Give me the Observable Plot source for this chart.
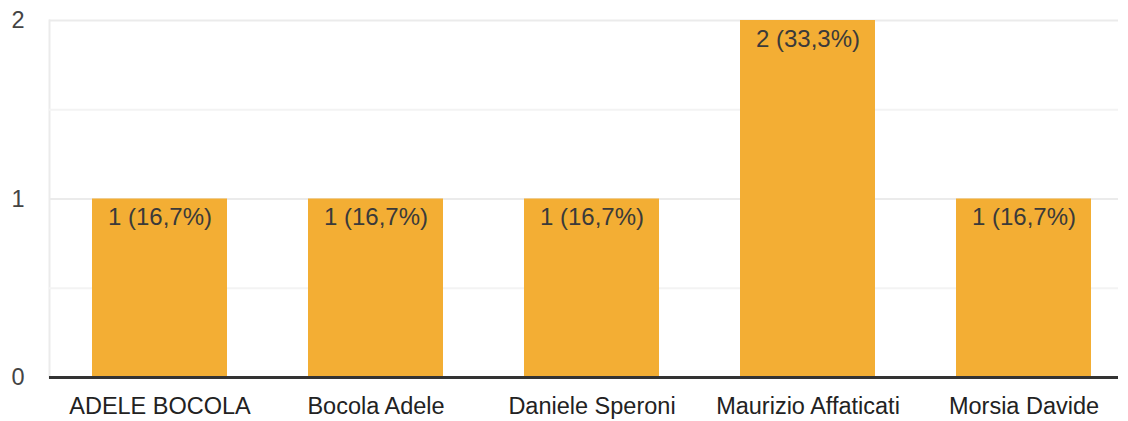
<!DOCTYPE html>
<html>
<head>
<meta charset="utf-8">
<script src="https://cdn.jsdelivr.net/npm/d3@7"></script>
<script src="https://cdn.jsdelivr.net/npm/@observablehq/plot@0.6"></script>
<style>
  body { margin: 0; background: #fff; }
  svg { font-family: "Liberation Sans", Arial, sans-serif; }
</style>
</head>
<body>
<div id="chart"></div>
<script>
const names = ["ADELE BOCOLA", "Bocola Adele", "Daniele Speroni", "Maurizio Affaticati", "Morsia Davide"];
const counts = [1, 1, 1, 2, 1];
const barLabels = ["1 (16,7%)", "1 (16,7%)", "1 (16,7%)", "2 (33,3%)", "1 (16,7%)"];
const yTicks = [0, 1, 2];
const minorGrid = [0.5, 1.5];
const majorGrid = [1, 2];

const data = names.map((n, i) => ({name: n, count: counts[i], label: barLabels[i]}));

const chart = Plot.plot({
  width: 1128,
  height: 421,
  marginTop: 20,
  marginBottom: 44,
  marginLeft: 49,
  marginRight: 10,
  style: {fontFamily: "'Liberation Sans', Arial, sans-serif", background: "#fff"},
  x: {domain: names, range: [50, 1133], paddingInner: 0.376, paddingOuter: 0.188, label: null},
  y: {domain: [0, 2], label: null},
  marks: [
    Plot.frame({anchor: "left", stroke: "#ebebeb", strokeWidth: 2}),
    Plot.ruleY(minorGrid, {stroke: "#f3f3f3", strokeWidth: 2}),
    Plot.ruleY(majorGrid, {stroke: "#ebebeb", strokeWidth: 2}),
    Plot.barY(data, {x: "name", y: "count", fill: "#f3ae34"}),
    Plot.text(data, {x: "name", y: "count", text: "label", dy: 18.5, fontSize: 24, fill: "#3a3a3a"}),
    Plot.ruleY([0], {stroke: "#333", strokeWidth: 3}),
    Plot.axisY({ticks: yTicks, tickSize: 0, tickPadding: 25, fontSize: 23.5, color: "#444", tickFormat: d => String(d)}),
    Plot.axisX({tickSize: 0, tickPadding: 20, fontSize: 23.5, color: "#222"})
  ]
});
document.getElementById("chart").appendChild(chart);
</script>
</body>
</html>
